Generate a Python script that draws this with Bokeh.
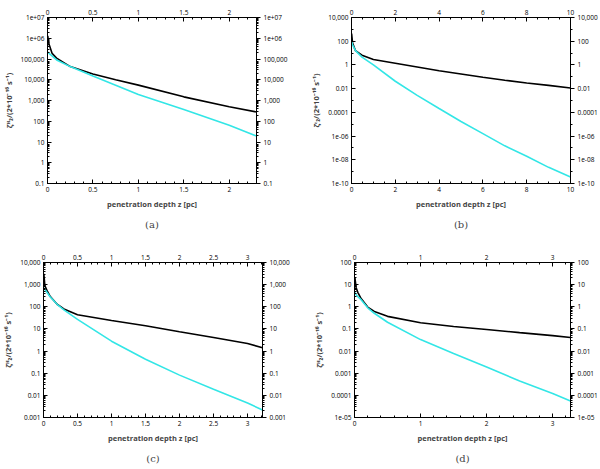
import numpy as np
from bokeh.plotting import figure
from bokeh.layouts import column, row
from bokeh.models import LinearAxis, LogAxis, FixedTicker, Title
from bokeh.embed import file_html
from bokeh.resources import INLINE

# panel (a)
z_a = [0.003, 0.01, 0.02, 0.05, 0.1, 0.25, 0.5, 0.75, 1.0, 1.5, 2.0, 2.3]
black_a = [1.3e6, 6.7e5, 4.7e5, 1.9e5, 1.1e5, 4.3e4, 1.9e4, 1.0e4, 5.5e3, 1.5e3, 5.0e2, 2.8e2]
cyan_a = [2.2e5, 2.0e5, 1.8e5, 1.4e5, 9.0e4, 4.3e4, 1.5e4, 5.5e3, 1.95e3, 3.7e2, 64, 19.5]
yticks_a = [0.1, 1, 10, 100, 1e3, 1e4, 1e5, 1e6, 1e7]
ylabels_a = ["0.1", "1", "10", "100", "1,000", "10,000", "100,000", "1e+06", "1e+07"]
xticks_a = [0, 0.5, 1, 1.5, 2]

# panel (b)
z_b = [0.005, 0.05, 0.18, 0.48, 1, 2, 3, 4, 5, 6, 7, 8, 9, 10]
black_b = [450, 70, 16, 6.6, 2.9, 1.4, 0.68, 0.32, 0.17, 0.09, 0.051, 0.030, 0.019, 0.0115]
cyan_b = [100, 50, 16, 4.5, 1.0, 0.042, 0.0027, 2.1e-4, 1.7e-5, 1.6e-6, 1.5e-7, 2e-8, 2.3e-9, 3.5e-10]
yticks_b = [1e-10, 1e-8, 1e-6, 1e-4, 1e-2, 1, 100, 1e4]
ylabels_b = ["1e-10", "1e-08", "1e-06", "0.0001", "0.01", "1", "100", "10,000"]
xticks_b = [0, 2, 4, 6, 8, 10]

# panel (c)
z_c = [0.005, 0.02, 0.05, 0.1, 0.2, 0.3, 0.5, 1.0, 1.5, 2.0, 2.5, 3.0, 3.22]
black_c = [3100, 900, 550, 290, 130, 80, 44, 24, 14, 7.5, 4.1, 2.2, 1.4]
cyan_c = [720, 600, 450, 275, 130, 72, 27, 2.8, 0.43, 0.082, 0.019, 0.0045, 0.0022]
yticks_c = [1e-3, 1e-2, 0.1, 1, 10, 100, 1e3, 1e4]
ylabels_c = ["0.001", "0.01", "0.1", "1", "10", "100", "1,000", "10,000"]
xticks_c = [0, 0.5, 1, 1.5, 2, 2.5, 3]

# panel (d)
z_d = [0.005, 0.025, 0.05, 0.1, 0.2, 0.3, 0.5, 1, 1.5, 2, 2.5, 3, 3.27]
black_d = [22, 7.3, 4.5, 2.35, 0.97, 0.62, 0.37, 0.19, 0.128, 0.094, 0.068, 0.05, 0.041]
cyan_d = [4.5, 3.5, 2.9, 2.1, 0.9, 0.51, 0.2, 0.033, 0.0078, 0.0019, 4.5e-4, 1.2e-4, 5.5e-5]
yticks_d = [1e-5, 1e-4, 1e-3, 1e-2, 0.1, 1, 10, 100]
ylabels_d = ["1e-05", "0.0001", "0.001", "0.01", "0.1", "1", "10", "100"]
xticks_d = [0, 1, 2, 3]

SANS = "Open Sans"


def log_minors(lo, hi, every_decade):
    out = []
    for k in range(int(np.floor(np.log10(lo))), int(np.ceil(np.log10(hi)))):
        if every_decade:
            out += [d * 10.0 ** k for d in range(2, 10)]
        else:
            out.append(10.0 ** k)
    return [m for m in out if lo <= m <= hi]


def panel(z, black, cyan, xmax, xticks, xminor, yticks, ylabels, ylabel, caption,
          borders, height, dense=True):
    ymin, ymax = yticks[0], yticks[-1]
    left, right, top, bottom = borders
    p = figure(width=300, height=height, x_range=(0, xmax), y_range=(ymin, ymax),
               y_axis_type="log", output_backend="svg", toolbar_location=None,
               min_border_left=left, min_border_right=right,
               min_border_top=top, min_border_bottom=bottom)
    p.grid.visible = False
    p.outline_line_color = "black"
    p.outline_line_width = 1

    p.line(z, black, line_color="black", line_width=1.6)
    p.line(z, cyan, line_color="#33e6e6", line_width=1.6)

    p.add_layout(LinearAxis(), "above")
    p.add_layout(LogAxis(), "right")

    xt = FixedTicker(ticks=xticks, minor_ticks=list(np.arange(0, xmax + 1e-9, xminor)))
    for ax in p.xaxis:
        ax.ticker = xt
    minors = log_minors(ymin, ymax, dense)
    for ax in p.yaxis:
        ax.ticker = FixedTicker(ticks=yticks, minor_ticks=minors)
        ax.major_label_overrides = {t: s for t, s in zip(yticks, ylabels)}

    for ax in p.axis:
        ax.axis_line_color = "black"
        ax.major_tick_line_color = "black"
        ax.minor_tick_line_color = "black"
        ax.major_tick_in = 4
        ax.major_tick_out = 0
        ax.minor_tick_in = 2
        ax.minor_tick_out = 0
        ax.major_label_text_font = SANS
        ax.major_label_text_font_size = "6.5px"
        ax.major_label_text_color = "black"
        ax.major_label_standoff = 3
        ax.axis_label_text_font = SANS
        ax.axis_label_text_font_size = "7.5px"
        ax.axis_label_text_font_style = "bold"
        ax.axis_label_standoff = 4
    right_ax = p.right[0]
    right_ax.major_tick_in = 0
    right_ax.major_tick_out = 4
    right_ax.minor_tick_in = 0
    right_ax.minor_tick_out = 2

    p.below[0].axis_label = "penetration depth z [pc]"
    p.left[0].axis_label = ylabel

    p.add_layout(Title(text=caption, align="center", text_font="DejaVu Serif",
                       text_font_size="10px", text_font_style="normal"), "below")
    return p


ylab = "/(2*10\u207b\u00b9\u2076 s\u207b\u00b9)"
pa = panel(z_a, black_a, cyan_a, 2.3, xticks_a, 0.1, yticks_a, ylabels_a,
           "\u03b6\u1d34\u2082" + ylab, "(a)", (45, 44, 17, 51), 234)
pb = panel(z_b, black_b, cyan_b, 10, xticks_b, 0.5, yticks_b, ylabels_b,
           "\u03b6\u1d49\u2082" + ylab, "(b)", (51, 29, 15, 49), 234, dense=False)
pc = panel(z_c, black_c, cyan_c, 3.22, xticks_c, 0.1, yticks_c, ylabels_c,
           "\u03b6\u1d34\u2082" + ylab, "(c)", (41, 38, 28, 42), 234)
pd = panel(z_d, black_d, cyan_d, 3.27, xticks_d, 0.2, yticks_d, ylabels_d,
           "\u03b6\u1d34\u2082" + ylab, "(d)", (54, 29, 24, 41), 234)

layout = column(row(pa, pb), row(pc, pd))
open("out.html", "w").write(file_html(layout, INLINE))
